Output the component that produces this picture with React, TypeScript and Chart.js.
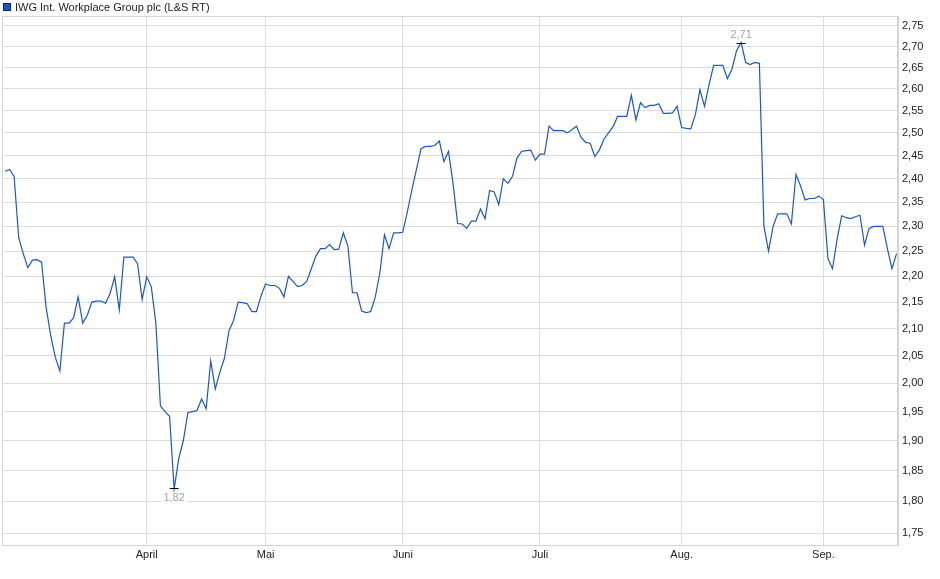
import React, { useEffect, useRef } from 'react';
import { Chart, registerables } from 'chart.js';

Chart.register(...registerables);

const seriesLabel = 'IWG Int. Workplace Group plc (L&S RT)';

// one value per trading session, 1 March .. mid September
const prices = [
  2.416, 2.42, 2.405, 2.277, 2.245, 2.217, 2.232, 2.233, 2.228, 2.14,
  2.087, 2.047, 2.022, 2.11, 2.11, 2.12, 2.16, 2.11, 2.125, 2.15,
  2.152, 2.152, 2.148, 2.167, 2.199, 2.135, 2.238, 2.238, 2.238, 2.225,
  2.155, 2.199, 2.18, 2.11, 1.96, 1.95, 1.942, 1.82, 1.87, 1.9,
  1.948, 1.95, 1.952, 1.972, 1.955, 2.04, 1.99, 2.02, 2.045, 2.096,
  2.115, 2.15, 2.149, 2.147, 2.132, 2.132, 2.162, 2.185, 2.182, 2.182,
  2.177, 2.16, 2.2, 2.19, 2.18, 2.182, 2.19, 2.215, 2.24, 2.255,
  2.255, 2.263, 2.253, 2.254, 2.287, 2.26, 2.168, 2.168, 2.133, 2.13,
  2.132, 2.16, 2.207, 2.283, 2.255, 2.287, 2.287, 2.288, 2.33, 2.376,
  2.42, 2.465, 2.47, 2.47, 2.472, 2.482, 2.437, 2.459, 2.39, 2.306,
  2.305, 2.296, 2.311, 2.311, 2.336, 2.316, 2.375, 2.372, 2.345, 2.4,
  2.39, 2.405, 2.445, 2.459, 2.461, 2.462, 2.44, 2.453, 2.453, 2.515,
  2.505, 2.505, 2.505, 2.5, 2.507, 2.515, 2.49, 2.479, 2.477, 2.448,
  2.462, 2.486, 2.5, 2.514, 2.537, 2.537, 2.537, 2.585, 2.529, 2.568,
  2.557, 2.562, 2.562, 2.566, 2.544, 2.544, 2.545, 2.56, 2.512, 2.51,
  2.509, 2.541, 2.598, 2.56, 2.61, 2.655, 2.655, 2.655, 2.624, 2.646,
  2.69, 2.71, 2.662, 2.657, 2.662, 2.66, 2.3, 2.25, 2.3, 2.326,
  2.326, 2.326, 2.305, 2.409, 2.385, 2.355, 2.358, 2.358, 2.363, 2.356,
  2.235, 2.215, 2.274, 2.322, 2.318, 2.316, 2.32, 2.323, 2.262, 2.296,
  2.3, 2.3, 2.3, 2.255, 2.215, 2.245,
];

const monthTickIndex = [31, 57, 87, 117, 148, 179];
const monthLabels = ['April', 'Mai', 'Juni', 'Juli', 'Aug.', 'Sep.'];

const yTickValues = [
  1.75, 1.8, 1.85, 1.9, 1.95, 2.0, 2.05, 2.1, 2.15, 2.2, 2.25,
  2.3, 2.35, 2.4, 2.45, 2.5, 2.55, 2.6, 2.65, 2.7, 2.75,
];

const yMin = 1.7314;
const yMax = 2.7746;
const xMin = -0.65;
const xMax = 195.32;

const FONT = '"Liberation Sans", Arial, sans-serif';
const LINE_COLOR = '#1c57c7';

const fmt = (v: number) => v.toFixed(2).replace('.', ',');

const legendPlugin = {
  id: 'customLegend',
  afterDraw(chart: any) {
    const { ctx } = chart;
    ctx.save();
    ctx.fillStyle = LINE_COLOR;
    ctx.fillRect(3, 3, 8, 8);
    ctx.strokeStyle = '#0b2a66';
    ctx.lineWidth = 1;
    ctx.strokeRect(3.5, 3.5, 7, 7);
    ctx.fillStyle = '#222';
    ctx.font = `11px ${FONT}`;
    ctx.textAlign = 'left';
    ctx.textBaseline = 'middle';
    ctx.fillText(chart.data.datasets[0].label, 15, 7.5);
    ctx.restore();
  },
};

const borderPlugin = {
  id: 'plotBorder',
  beforeDatasetsDraw(chart: any) {
    const { ctx, chartArea: a } = chart;
    ctx.save();
    ctx.strokeStyle = '#d4d4d4';
    ctx.lineWidth = 1;
    ctx.strokeRect(Math.round(a.left) + 0.5, Math.round(a.top) + 0.5, Math.round(a.right - a.left) - 1, Math.round(a.bottom - a.top));
    ctx.restore();
  },
};

const extremaPlugin = {
  id: 'extrema',
  afterDatasetsDraw(chart: any) {
    const { ctx } = chart;
    const xs = chart.scales.x;
    const ys = chart.scales.y;
    const data = chart.data.datasets[0].data as { x: number; y: number }[];
    let maxI = 0;
    let minI = 0;
    data.forEach((p, i) => {
      if (p.y > data[maxI].y) maxI = i;
      if (p.y < data[minI].y) minI = i;
    });
    const draw = (p: { x: number; y: number }, above: boolean, color: string) => {
      const px = xs.getPixelForValue(p.x);
      const py = Math.round(ys.getPixelForValue(p.y)) + (above ? 1.5 : -0.5);
      ctx.save();
      ctx.strokeStyle = '#000';
      ctx.lineWidth = 1;
      ctx.beginPath();
      ctx.moveTo(px - 4.5, py);
      ctx.lineTo(px + 4.5, py);
      ctx.stroke();
      const text = fmt(p.y);
      ctx.font = `11px ${FONT}`;
      const w = ctx.measureText(text).width;
      const ty = above ? py - 8.5 : py + 9.5;
      ctx.fillStyle = '#fff';
      ctx.fillRect(px - w / 2 - 2, ty - 6, w + 4, 12);
      ctx.fillStyle = color;
      ctx.textAlign = 'center';
      ctx.textBaseline = 'middle';
      ctx.fillText(text, px, ty);
      ctx.restore();
    };
    draw(data[maxI], true, '#9aa6bf');
    draw(data[minI], false, '#a8a398');
  },
};

export default function App() {
  const canvasRef = useRef<HTMLCanvasElement | null>(null);

  useEffect(() => {
    if (!canvasRef.current) return;
    const chart = new Chart(canvasRef.current, {
      type: 'line',
      data: {
        datasets: [
          {
            label: seriesLabel,
            data: prices.map((v, i) => ({ x: i, y: v })),
            borderColor: LINE_COLOR,
            backgroundColor: LINE_COLOR,
            borderWidth: 1.2,
            pointRadius: 0,
            tension: 0,
            fill: false,
          },
        ],
      },
      options: {
        responsive: false,
        animation: false,
        layout: { padding: { left: 2, top: 16, right: 0, bottom: 0 } },
        plugins: {
          legend: { display: false },
          tooltip: { enabled: false },
        },
        scales: {
          x: {
            type: 'linear',
            bounds: 'data',
            min: xMin,
            max: xMax,
            afterBuildTicks: (scale: any) => {
              scale.ticks = monthTickIndex.map((v) => ({ value: v }));
            },
            afterFit: (scale: any) => {
              scale.height = 34;
            },
            ticks: {
              autoSkip: false,
              maxRotation: 0,
              padding: 3,
              color: '#222',
              font: { family: FONT, size: 11 },
              callback: (v: any) => {
                const k = monthTickIndex.indexOf(Number(v));
                return k >= 0 ? monthLabels[k] : '';
              },
            },
            grid: { color: '#dcdcdc', lineWidth: 1, drawTicks: false },
            border: { display: true, color: '#d4d4d4' },
          },
          y: {
            type: 'logarithmic',
            bounds: 'data',
            position: 'right',
            min: yMin,
            max: yMax,
            afterBuildTicks: (scale: any) => {
              scale.ticks = yTickValues.map((v) => ({ value: v }));
            },
            afterDataLimits: (scale: any) => {
              scale.min = yMin;
              scale.max = yMax;
            },
            afterFit: (scale: any) => {
              scale.width = 42;
            },
            ticks: {
              autoSkip: false,
              padding: 4,
              color: '#222',
              font: { family: FONT, size: 11 },
              callback: (v: any) => fmt(Number(v)),
            },
            grid: { color: '#dcdcdc', lineWidth: 1, drawTicks: false },
            border: { display: true, color: '#d4d4d4' },
          },
        },
      },
      plugins: [borderPlugin, extremaPlugin, legendPlugin],
    });
    return () => chart.destroy();
  }, []);

  return (
    <div style={{ position: 'absolute', left: 0, top: 0, width: 940, height: 579, background: '#fff' }}>
      <canvas ref={canvasRef} width={940} height={579} style={{ display: 'block', width: 940, height: 579 }} />
    </div>
  );
}
